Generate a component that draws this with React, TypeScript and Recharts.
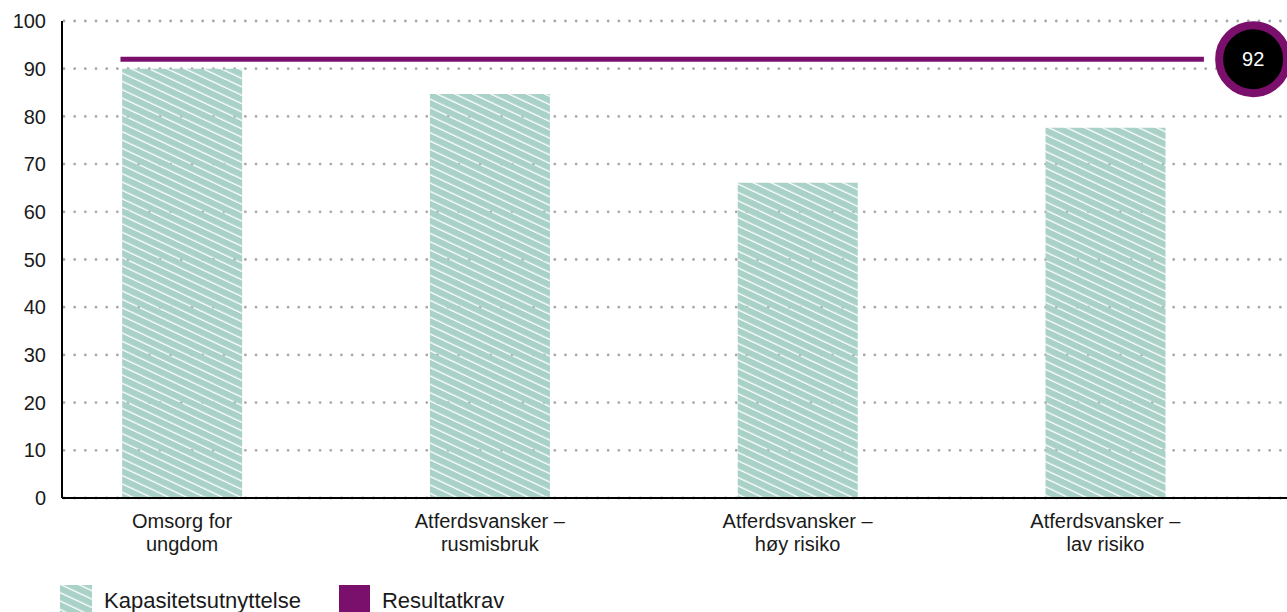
import React from "react";
import {
  ComposedChart,
  Bar,
  XAxis,
  YAxis,
  CartesianGrid,
  ReferenceLine,
  ReferenceDot,
  Legend,
} from "recharts";

// ---- data ----
const categories = [
  "Omsorg for\nungdom",
  "Atferdsvansker –\nrusmisbruk",
  "Atferdsvansker –\nhøy risiko",
  "Atferdsvansker –\nlav risiko",
];
const capacityUtilisation = [90, 84.7, 66.1, 77.6];
const resultRequirement = 92;
const yTicks = [0, 10, 20, 30, 40, 50, 60, 70, 80, 90, 100];
const seriesNames = ["Kapasitetsutnyttelse", "Resultatkrav"];

// categories sit at the middle of unit-wide slots on a numeric x axis
const data = categories.map((category, i) => ({
  slot: i + 0.5,
  category,
  capacity: capacityUtilisation[i],
}));
const slotTicks = data.map((d) => d.slot);

// ---- style ----
const FONT = '"Liberation Sans", Arial, sans-serif';
const TEAL = "#a9d1c7";
const PURPLE = "#7b0f6c";
const TEXT = "#1a1a1a";

const CategoryTick = (props: any) => {
  const { x, y, payload } = props;
  const row = data.find((d) => d.slot === payload.value);
  const lines = String(row ? row.category : "").split("\n");
  return (
    <text x={x} y={y} textAnchor="middle" fill={TEXT} fontSize={20} fontFamily={FONT}>
      {lines.map((l, i) => (
        <tspan key={i} x={x} y={y + 30 + i * 23}>
          {l}
        </tspan>
      ))}
    </text>
  );
};

const GridLine = (props: any) => (
  <line
    key={`g-${props.y1}`}
    x1={props.x1}
    y1={props.y1}
    x2={props.x2}
    y2={props.y2}
    stroke="#a8a8a8"
    strokeWidth={2.8}
    strokeDasharray="0 10.67"
    strokeDashoffset={-2}
    strokeLinecap="round"
  />
);

const LegendContent = () => (
  <div
    style={{
      height: 40,
      paddingTop: 13,
      boxSizing: "border-box",
      display: "flex",
      alignItems: "flex-start",
      fontFamily: FONT,
      fontSize: 22,
      color: TEXT,
    }}
  >
    <div style={{ display: "flex", alignItems: "center", marginLeft: 60, height: 31 }}>
      <svg width={32} height={31} style={{ display: "block" }}>
        <defs>
          <pattern
            id="hatchLegend"
            patternUnits="userSpaceOnUse"
            width="8"
            height="7.6"
            patternTransform="rotate(25)"
          >
            <rect x="0" y="0" width="8" height="6.3" fill={TEAL} />
          </pattern>
        </defs>
        <rect x={0} y={0} width={32} height={31} fill="url(#hatchLegend)" />
      </svg>
      <span style={{ marginLeft: 12 }}>{seriesNames[0]}</span>
    </div>
    <div style={{ display: "flex", alignItems: "center", marginLeft: 38, height: 31 }}>
      <div style={{ width: 31, height: 31, background: PURPLE }} />
      <span style={{ marginLeft: 12 }}>{seriesNames[1]}</span>
    </div>
  </div>
);

const Badge = (props: any) => {
  const { cx, cy } = props;
  return (
    <g>
      <circle cx={cx} cy={cy} r={34} fill="#000" stroke={PURPLE} strokeWidth={8} />
      <text
        x={cx}
        y={cy}
        dy="0.35em"
        textAnchor="middle"
        fill="#fff"
        fontSize={20}
        fontFamily={FONT}
      >
        {resultRequirement}
      </text>
    </g>
  );
};

export default function App() {
  return (
    <div style={{ position: "absolute", left: 0, top: 0, width: 1287, height: 612, background: "#fff" }}>
      <ComposedChart
        width={1287}
        height={612}
        data={data}
        margin={{ top: 21, right: 0, bottom: 0, left: 0 }}
      >
        <defs>
          <pattern
            id="hatch"
            patternUnits="userSpaceOnUse"
            width="8"
            height="7.6"
            patternTransform="rotate(25)"
          >
            <rect x="0" y="0" width="8" height="6.3" fill={TEAL} />
          </pattern>
        </defs>
        <CartesianGrid vertical={false} horizontal={GridLine as any} />
        <XAxis
          dataKey="slot"
          type="number"
          domain={[0.11, 4.09]}
          allowDataOverflow
          ticks={slotTicks}
          interval={0}
          height={74}
          tickLine={false}
          tickSize={0}
          tickMargin={0}
          axisLine={{ stroke: "#000", strokeWidth: 2 }}
          tick={<CategoryTick />}
        />
        <YAxis
          width={62}
          domain={[0, 100]}
          ticks={yTicks}
          interval={0}
          tickLine={false}
          tickSize={0}
          tickMargin={16}
          axisLine={{ stroke: "#000", strokeWidth: 2 }}
          tick={{ fill: TEXT, fontSize: 20, fontFamily: FONT }}
        />
        <Bar
          dataKey="capacity"
          name={seriesNames[0]}
          fill="url(#hatch)"
          barSize={120}
          isAnimationActive={false}
        />
        <ReferenceLine
          segment={[
            { x: 0.3, y: resultRequirement },
            { x: 3.82, y: resultRequirement },
          ]}
          stroke={PURPLE}
          strokeWidth={5}
          ifOverflow="visible"
        />
        <ReferenceDot
          x={3.98}
          y={resultRequirement}
          r={34}
          ifOverflow="visible"
          shape={<Badge />}
        />
        <Legend verticalAlign="bottom" align="left" content={() => <LegendContent />} />
      </ComposedChart>
    </div>
  );
}
